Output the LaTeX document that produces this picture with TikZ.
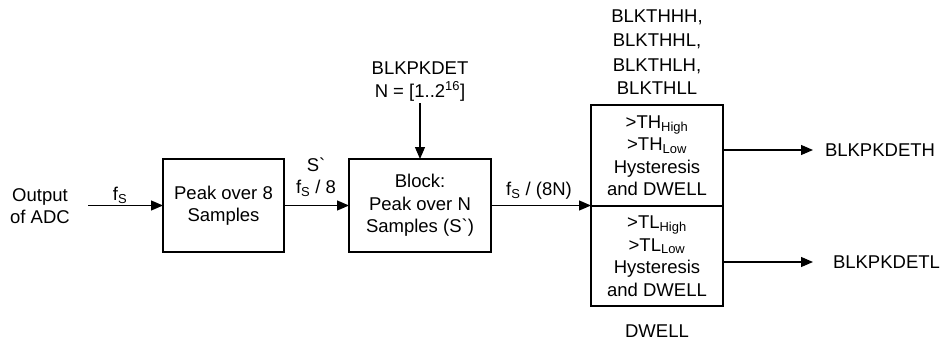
\documentclass[tikz,border=0pt]{standalone}
\usepackage{fontspec}
\setmainfont{Liberation Sans}
\newfontfamily\gravefont{Liberation Sans}
\usetikzlibrary{arrows.meta}
\begin{document}
\begin{tikzpicture}[x=1pt,y=-1pt,
  every node/.style={font=\fontsize{18.5}{22.5}\selectfont, inner sep=0pt, outer sep=0pt},
  blockbox/.style={draw, line width=2.3pt, align=center},
  conn/.style={line width=1.2pt, -{Triangle[length=12pt,width=10pt]}},
  lbl/.style={anchor=base, align=center}]
\useasboundingbox (0,0) rectangle (940,345);
% blocks
\node[blockbox, minimum width=121pt, minimum height=93pt] (b1) at (223.5,205.5) {Peak over 8\\Samples};
\node[blockbox, minimum width=142pt, minimum height=93pt] (b2) at (420,205.5) {Block:\\Peak over N\\Samples (S{\gravefont`})};
\node[blockbox, minimum width=132pt, minimum height=101pt] (b3a) at (657,155.5) {>TH\textsubscript{High}\\>TH\textsubscript{Low}\\Hysteresis\\and DWELL};
\node[blockbox, minimum width=132pt, minimum height=100pt] (b3b) at (657,256) {>TL\textsubscript{High}\\>TL\textsubscript{Low}\\Hysteresis\\and DWELL};
% texts
\node[align=center] (adc) at (40,206) {Output\\of ADC};
\coordinate (in) at (88,205.5);
\node[lbl] (fs) at (120,200) {f\textsubscript{S}};
\node[lbl] (sq) at (316,171) {S{\gravefont`}};
\node[lbl] (fs8) at (316,193) {f\textsubscript{S} / 8};
\node[lbl] (fs8n) at (539,195) {f\textsubscript{S} / (8N)};
\node[align=center, anchor=south] (bpk) at (420,101) {BLKPKDET\\N = [1..2\textsuperscript{16}]};
\node[align=center, anchor=south, font=\fontsize{18.5}{24}\selectfont] (bth) at (657,95) {BLKTHHH,\\BLKTHHL,\\BLKTHLH,\\BLKTHLL};
\node[lbl] (dw) at (657,337) {DWELL};
\node[anchor=west] (oh) at (825,150) {BLKPKDETH};
\node[anchor=west] (ol) at (833,262) {BLKPKDETL};
% connectors
\draw[conn] (in) -- (b1.west);
\draw[conn] (b1.east) -- (b2.west);
\draw[conn] ([yshift=-2pt]bpk.south) -- (b2.north);
\draw[conn] (b2.east) -- (b2.east -| b3a.south west);
\draw[conn] (b3a.east |- oh.west) -- ([xshift=-12pt]oh.west);
\draw[conn] (b3b.east |- ol.west) -- ([xshift=-20pt]ol.west);
\end{tikzpicture}
\end{document}
